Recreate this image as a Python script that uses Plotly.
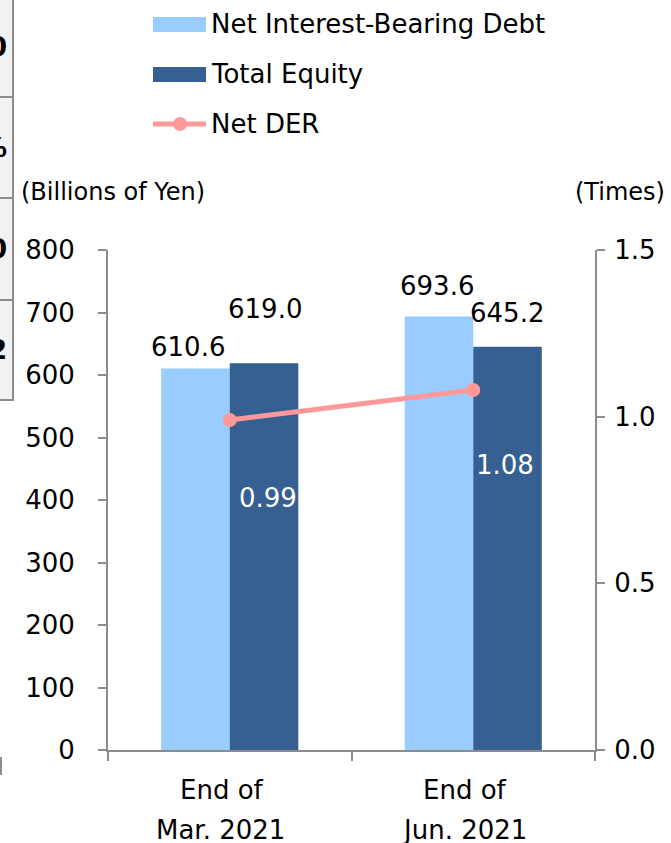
import plotly.graph_objects as go

categories = ["Mar. 2021", "Jun. 2021"]
cat_line1 = ["End of", "End of"]
net_debt = [610.6, 693.6]
total_equity = [619.0, 645.2]
net_der = [0.99, 1.08]
left_ticks = [0, 100, 200, 300, 400, 500, 600, 700, 800]
right_ticks = [0.0, 0.5, 1.0, 1.5]

LIGHT = "#99CCFF"
DARK = "#366092"
PINK = "#FF9999"
AX = "#8C8C8C"
FONT = "DejaVu Sans"

W, H = 671, 843
L, R, T, B = 108, 595, 250, 750  # plot area in screenshot pixels


def px(xp):
    return (xp - L) / (R - L)


def py(yp):
    return (B - yp) / (B - T)


fig = go.Figure()
fig.add_trace(go.Bar(x=categories, y=net_debt, name="Net Interest-Bearing Debt",
                     marker=dict(color=LIGHT, line=dict(width=0)), showlegend=False))
fig.add_trace(go.Bar(x=categories, y=total_equity, name="Total Equity",
                     marker=dict(color=DARK, line=dict(width=0)), showlegend=False))
fig.add_trace(go.Scatter(x=categories, y=net_der, name="Net DER", yaxis="y2",
                         mode="lines+markers", line=dict(color=PINK, width=5),
                         marker=dict(color=PINK, size=14), showlegend=False))

ann = []
debt_shift = [(-42, 21), (-36, 31)]
eq_shift = [(35, 54), (34, 34)]
for i, c in enumerate(categories):
    ann.append(dict(x=c, y=net_debt[i], xref="x", yref="y", text=f"{net_debt[i]:.1f}",
                    showarrow=False, xshift=debt_shift[i][0], yshift=debt_shift[i][1],
                    font=dict(size=26, color="#000")))
    ann.append(dict(x=c, y=total_equity[i], xref="x", yref="y", text=f"{total_equity[i]:.1f}",
                    showarrow=False, xshift=eq_shift[i][0], yshift=eq_shift[i][1],
                    font=dict(size=26, color="#000")))
der_shift = [(38, -78), (32, -75)]
for i, c in enumerate(categories):
    ann.append(dict(x=c, y=net_der[i], xref="x", yref="y2", text=f"{net_der[i]:.2f}",
                    showarrow=False, xshift=der_shift[i][0], yshift=der_shift[i][1],
                    font=dict(size=26, color="#FFFFFF")))
for i, c in enumerate(categories):
    ann.append(dict(x=c, y=0, xref="x", yref="paper", text=cat_line1[i], showarrow=False,
                    yanchor="middle", xshift=-8, yshift=-40, font=dict(size=26, color="#000")))
    ann.append(dict(x=c, y=0, xref="x", yref="paper", text=c, showarrow=False,
                    yanchor="middle", xshift=-9, yshift=-80, font=dict(size=26, color="#000")))
ann.append(dict(x=px(19), y=py(192), xref="paper", yref="paper", text="(Billions of Yen)",
                showarrow=False, xanchor="left", yanchor="middle", font=dict(size=24, color="#000")))
ann.append(dict(x=px(667), y=py(192), xref="paper", yref="paper", text="(Times)",
                showarrow=False, xanchor="right", yanchor="middle", font=dict(size=24, color="#000")))
legend_items = ["Net Interest-Bearing Debt", "Total Equity", "Net DER"]
leg_y = [24, 74, 124]
for name, yy in zip(legend_items, leg_y):
    ann.append(dict(x=px(209), y=py(yy), xref="paper", yref="paper", text=name,
                    showarrow=False, xanchor="left", yanchor="middle",
                    font=dict(size=26, color="#000")))

shapes = [
    dict(type="rect", xref="paper", yref="paper", x0=px(153), x1=px(206), y0=py(17), y1=py(32),
         fillcolor=LIGHT, line=dict(width=0)),
    dict(type="rect", xref="paper", yref="paper", x0=px(153), x1=px(206), y0=py(67), y1=py(82),
         fillcolor=DARK, line=dict(width=0)),
    dict(type="line", xref="paper", yref="paper", x0=px(153), x1=px(206), y0=py(124), y1=py(124),
         line=dict(color=PINK, width=5)),
    dict(type="circle", xref="paper", yref="paper", x0=px(173), x1=px(187), y0=py(117), y1=py(131),
         fillcolor=PINK, line=dict(width=0)),
]

# partial table fragment at the left edge
shapes.append(dict(type="rect", xref="paper", yref="paper", x0=px(-5), x1=px(13), y0=py(0), y1=py(400),
                   fillcolor="#F2F2F2", line=dict(width=0), layer="below"))
shapes.append(dict(type="line", xref="paper", yref="paper", x0=px(13), x1=px(13), y0=py(0), y1=py(401),
                   line=dict(color="#8C8C8C", width=2)))
for yy in [97, 198, 300, 400]:
    shapes.append(dict(type="line", xref="paper", yref="paper", x0=px(-5), x1=px(13), y0=py(yy), y1=py(yy),
                       line=dict(color="#8C8C8C", width=2)))
shapes.append(dict(type="line", xref="paper", yref="paper", x0=px(1), x1=px(1), y0=py(757), y1=py(775),
                   line=dict(color="#8C8C8C", width=2)))
for txt, yy in [("0", 47), ("%", 148), ("0", 249), ("2", 350)]:
    ann.append(dict(x=px(9), y=py(yy), xref="paper", yref="paper", text=f"<b>{txt}</b>",
                    showarrow=False, xanchor="right", yanchor="middle",
                    font=dict(size=26, color="#000")))

fig.update_layout(
    width=W, height=H,
    margin=dict(l=L, r=W - R, t=T, b=H - B, pad=0),
    paper_bgcolor="white", plot_bgcolor="white",
    font=dict(family=FONT, size=26, color="#000"),
    barmode="group", bargap=0.437, bargroupgap=0,
    showlegend=False,
    xaxis=dict(type="category", showticklabels=False, showline=True, linecolor=AX, linewidth=2,
               ticks="outside", tickson="boundaries", ticklen=9, tickcolor=AX, tickwidth=2,
               showgrid=False, zeroline=False),
    yaxis=dict(range=[0, 800], tickvals=left_ticks, showline=True, linecolor=AX, linewidth=2,
               ticks="outside", ticklen=8, tickcolor=AX, tickwidth=2, showgrid=False,
               zeroline=False, tickfont=dict(size=26), ticklabelstandoff=18),
    yaxis2=dict(range=[0, 1.5], overlaying="y", side="right", tickvals=right_ticks,
                ticktext=[f"{v:.1f}" for v in right_ticks], showline=True, linecolor=AX,
                linewidth=2, ticks="outside", ticklen=8, tickcolor=AX, tickwidth=2,
                showgrid=False, zeroline=False, tickfont=dict(size=26), ticklabelstandoff=4),
    annotations=ann, shapes=shapes,
)

fig.write_html("out.html", config={"displayModeBar": False},
               post_script="document.body.style.margin='0px';document.body.style.padding='0px';")
